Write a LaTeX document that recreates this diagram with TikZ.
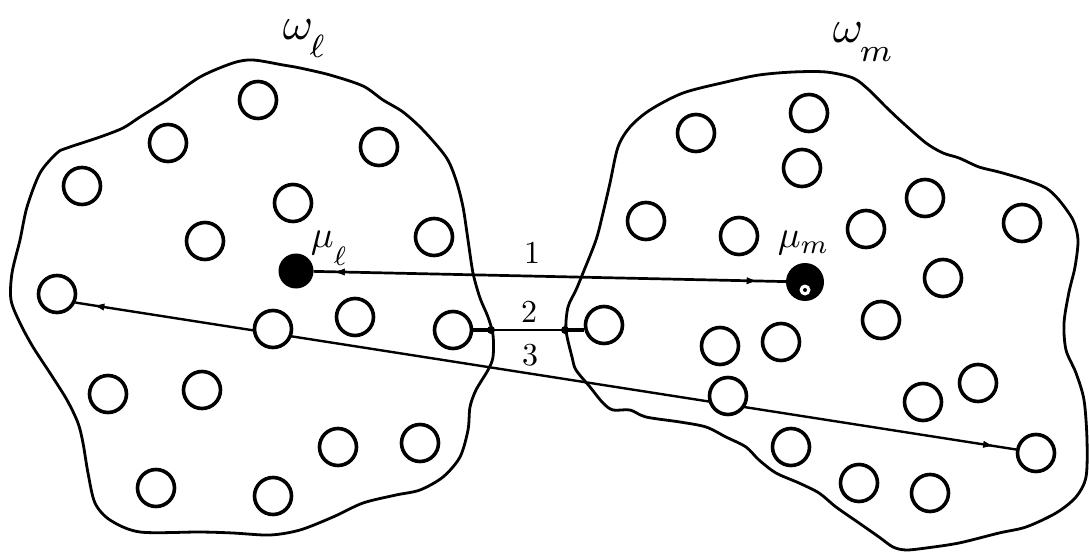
\documentclass[tikz,border=0pt]{standalone}
\usetikzlibrary{arrows.meta,decorations.markings}
\pgfdeclarelayer{bg}
\pgfsetlayers{bg,main}
\begin{document}
\begin{tikzpicture}[x=1pt,y=-1pt,
  grain/.style={circle,draw,fill=white,line width=3.6pt,minimum size=37pt,inner sep=0pt},
  core/.style={circle,fill=black,inner sep=0pt},
  boundary/.style={line width=2.8pt,line join=round},
  conn/.style={line width=2.4pt},
  lab/.style={inner sep=0pt},
  tipL/.style={decoration={markings,mark=at position #1 with {\arrowreversed{Latex[length=11pt,width=7pt]}}},postaction={decorate}},
  tipR/.style={decoration={markings,mark=at position #1 with {\arrow{Latex[length=11pt,width=7pt]}}},postaction={decorate}}
]
\useasboundingbox (0,0) rectangle (1089,553);

% boundaries
\draw[boundary] plot[smooth cycle,tension=0.5] coordinates {
 (253,60) (283,65) (300,68) (330,75) (363,86) (383,100) (403,112) (423,130)
 (446,157) (456,180) (463,207) (468,240) (473,273) (480,298) (488,317) (493,335)
 (493,357) (488,370) (476,390) (470,407) (468,430) (460,457) (443,477) (420,490)
 (396,495) (363,503) (333,517) (300,530) (270,535) (233,533) (200,532) (140,532)
 (110,520) (95,503) (88,473) (83,443) (78,423) (67,400) (50,373) (33,347) (20,323)
 (11,300) (12,273) (20,240) (27,207) (40,173) (57,153) (67,148) (100,137) (123,128)
 (140,117) (167,100) (200,77) (233,63)};
\draw[boundary] plot[smooth cycle,tension=0.5] coordinates {
 (726,82) (759,75) (793,72) (826,72) (853,78) (869,90) (886,107) (903,123)
 (926,143) (943,153) (959,158) (979,167) (999,172) (1026,180) (1046,188) (1059,200)
 (1073,220) (1078,240) (1075,267) (1069,292) (1064,323) (1066,350) (1076,373)
 (1084,400) (1087,440) (1086,477) (1076,497) (1056,513) (1026,527) (999,533)
 (959,543) (926,548) (906,550) (893,547) (879,537) (859,523) (836,507) (819,493)
 (799,483) (776,473) (759,460) (746,447) (726,437) (706,427) (680,422) (646,417)
 (630,410) (613,410) (603,403) (590,387) (576,370) (572,357) (566,330) (568,307)
 (576,290) (583,273) (596,240) (603,213) (610,183) (618,147) (630,127) (650,110)
 (683,93)};

% left region grains
\node[grain] (l1) at (258,100) {};
\node[grain] (l2) at (168,143) {};
\node[grain] (l3) at (82,186) {};
\node[grain] (l4) at (379,147) {};
\node[grain] (l5) at (293,203) {};
\node[grain] (l6) at (205,241) {};
\node[grain] (l7) at (434,237) {};
\node[grain] (l8) at (57,294) {};
\node[grain] (l9) at (273,329) {};
\node[grain] (l10) at (355,317) {};
\node[grain] (l11) at (453,330) {};
\node[grain] (l12) at (108,394) {};
\node[grain] (l13) at (202,390) {};
\node[grain] (l14) at (338,447) {};
\node[grain] (l15) at (420,443) {};
\node[grain] (l16) at (156,488) {};
\node[grain] (l17) at (273,496) {};
\node[core,minimum size=35pt] (mul) at (296,271) {};

% right region grains
\node[grain] (r1) at (696,133) {};
\node[grain] (r2) at (809,113) {};
\node[grain] (r3) at (802,168) {};
\node[grain] (r4) at (646,221) {};
\node[grain] (r5) at (739,236) {};
\node[grain] (r6) at (866,229) {};
\node[grain] (r7) at (925,198) {};
\node[grain] (r8) at (1022,223) {};
\node[grain] (r9) at (943,278) {};
\node[grain] (r10) at (881,320) {};
\node[grain] (r11) at (604,325) {};
\node[grain] (r12) at (720,346) {};
\node[grain] (r13) at (781,342) {};
\node[grain] (r14) at (728,396) {};
\node[grain] (r15) at (923,402) {};
\node[grain] (r16) at (978,383) {};
\node[grain] (r17) at (791,447) {};
\node[grain] (r18) at (859,483) {};
\node[grain] (r19) at (930,493) {};
\node[grain] (r20) at (1036,453) {};
\node[core,minimum size=38pt] (mum) at (805,282) {};
\fill[white] ([yshift=-8pt]mum.center) circle (5.5);
\fill[black] ([yshift=-8pt]mum.center) circle (2);

% connectors (behind the grains)
\coordinate (b1) at (491,330);
\coordinate (b2) at (565,330);
\begin{pgfonlayer}{bg}
\draw[conn,line width=2.7pt,tipL=20pt,tipR=-28pt] (mul) -- (mum);
\draw[conn,tipL=18pt,tipR=-22pt] (l8.-25) -- (r20.170);
\draw[line width=2pt] (b1) -- (b2);
\draw[line width=3.4pt] (l11.east) -- (b1);
\draw[line width=3.4pt] (b2) -- (b2 -| r11.west);
\end{pgfonlayer}
\fill (b1) circle (4);
\fill (b2) circle (4);

% labels
\node[lab,anchor=base west,scale=4.6] (wl) at (282,40)
  {$\omega_{\kern-0.5pt\raisebox{-2.4pt}{$\scriptstyle\ell$}}$};
\node[lab,anchor=base west,scale=4.6] (wm) at (832,43)
  {$\omega_{\kern-0.4pt\raisebox{-2.6pt}{$\scriptstyle m$}}$};
\node[lab,anchor=base west,scale=3.8] (ml) at (310,248)
  {$\mu_{\raisebox{-3pt}{$\scriptstyle\ell$}}$};
\node[lab,anchor=base west,scale=3.8] (mm) at (777,248)
  {$\mu_{m}$};
\node[lab,scale=3.2] (n1) at (532,253) {1};
\node[lab,scale=3.2] (n2) at (529,312) {2};
\node[lab,scale=3.2] (n3) at (530,355) {3};
\end{tikzpicture}
\end{document}
